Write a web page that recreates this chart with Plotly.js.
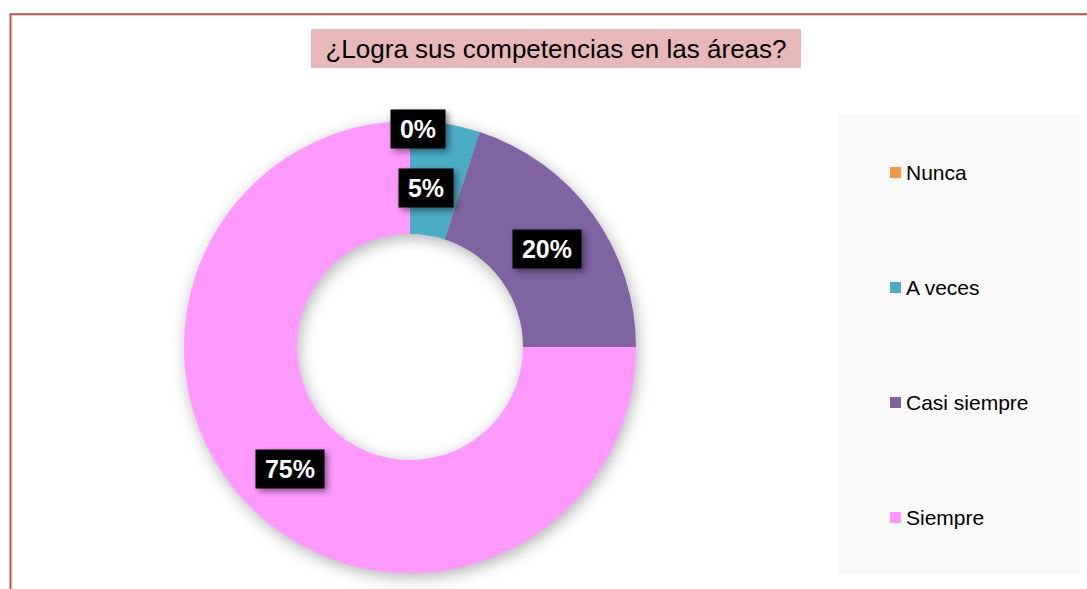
<!DOCTYPE html>
<html>
<head>
<meta charset="utf-8">
<script src="https://cdn.plot.ly/plotly-3.0.1.min.js"></script>
<style>
  html, body { margin: 0; padding: 0; background: #ffffff; }
  #chart { width: 1087px; height: 589px; }
  .pielayer .trace { filter: drop-shadow(2px 4px 8px rgba(0,0,0,0.3)); }
  .annotation .bg { filter: drop-shadow(3px 3px 3px rgba(0,0,0,0.45)); }
</style>
</head>
<body>
<div id="chart"></div>
<script>
// ---- data ----
const categories = ['Nunca', 'A veces', 'Casi siempre', 'Siempre'];
const values = [0, 5, 20, 75];
const colors = ['#F79646', '#4BACC6', '#8064A2', '#FF99FF'];
const titleText = '¿Logra sus competencias en las áreas?';

// ---- layout geometry (pixels) ----
const W = 1087, H = 589;
const cx = 410, cy = 347, R = 226, hole = 0.5;
const labelNudge = [[8, 8], [-11, 8], [0, 2], [0, 2]];
const px = x => x / W;
const py = y => 1 - y / H;

const total = values.reduce((a, b) => a + b, 0);

const pie = {
  type: 'pie',
  labels: categories,
  values: values,
  marker: { colors: colors, line: { width: 0 } },
  hole: hole,
  sort: false,
  direction: 'clockwise',
  rotation: 0,
  textinfo: 'none',
  hoverinfo: 'label+percent',
  showlegend: false,
  domain: { x: [px(cx - R), px(cx + R)], y: [py(cy + R), py(cy - R)] }
};

const annotations = [];
const shapes = [];

// frame border
shapes.push({ type: 'rect', xref: 'paper', yref: 'paper', layer: 'below',
  x0: px(10.5), x1: 1.05, y0: -0.05, y1: py(14.3),
  line: { color: '#C0504D', width: 2 }, fillcolor: 'rgba(0,0,0,0)' });
// title background
shapes.push({ type: 'rect', xref: 'paper', yref: 'paper', layer: 'below',
  x0: px(311), x1: px(801), y0: py(68), y1: py(29),
  line: { width: 0 }, fillcolor: '#E6B9B8' });
// legend background
shapes.push({ type: 'rect', xref: 'paper', yref: 'paper', layer: 'below',
  x0: px(838), x1: px(1081), y0: py(574), y1: py(115),
  line: { width: 0 }, fillcolor: '#F9F9F9' });

// data labels
let cum = 0;
values.forEach((v, i) => {
  const a0 = cum / total * 2 * Math.PI;
  cum += v;
  const a1 = cum / total * 2 * Math.PI;
  const mid = (a0 + a1) / 2;
  const r = v > 0 ? R * (1 + hole) / 2 : R;
  const x = cx + r * Math.sin(mid) + labelNudge[i][0];
  const y = cy - r * Math.cos(mid) + labelNudge[i][1];
  const txt = Math.round(v / total * 100) + '%';
  const digits = txt.length - 1;
  annotations.push({
    xref: 'paper', yref: 'paper', x: px(x), y: py(y),
    xanchor: 'center', yanchor: 'middle', showarrow: false,
    text: txt,
    font: { family: 'Liberation Sans, Arial, sans-serif', size: 25, color: '#FFFFFF', weight: 'bold' },
    bgcolor: '#000000', borderpad: 5,
    width: Math.round(25 * (0.556 * digits + 0.889)) + 8
  });
});

// legend (squares + text), entries evenly spaced in legend box
const legTop = 115, legStep = 115;
categories.forEach((c, i) => {
  const yc = legTop + legStep / 2 + i * legStep;
  shapes.push({ type: 'rect', xref: 'paper', yref: 'paper',
    x0: px(890), x1: px(901), y0: py(yc + 5.5), y1: py(yc - 5.5),
    line: { width: 0 }, fillcolor: colors[i] });
  annotations.push({
    xref: 'paper', yref: 'paper', x: px(904), y: py(yc),
    xanchor: 'left', yanchor: 'middle', showarrow: false,
    text: c,
    font: { family: 'Liberation Sans, Arial, sans-serif', size: 21, color: '#000000' }
  });
});

const layout = {
  width: W, height: H,
  margin: { l: 0, r: 0, t: 0, b: 0 },
  paper_bgcolor: '#FFFFFF',
  showlegend: false,
  title: {
    text: titleText,
    x: px(556), xanchor: 'center', xref: 'paper',
    y: py(49), yanchor: 'middle', yref: 'paper',
    font: { family: 'Liberation Sans, Arial, sans-serif', size: 26, color: '#000000' }
  },
  shapes: shapes,
  annotations: annotations
};

Plotly.newPlot('chart', [pie], layout, { displayModeBar: false, staticPlot: true });
</script>
</body>
</html>
